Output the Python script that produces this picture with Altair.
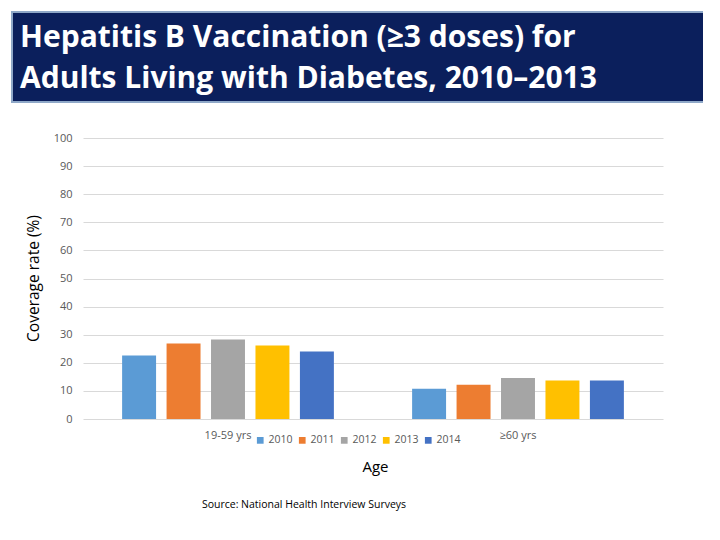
import altair as alt
import pandas as pd

groups = ["19-59 yrs", "≥60 yrs"]
years = ["2010", "2011", "2012", "2013", "2014"]
vals_young = [22.6, 26.9, 28.3, 26.2, 24.0]
vals_old = [10.8, 12.2, 14.6, 13.7, 13.7]
colors = ["#5B9BD5", "#ED7D31", "#A5A5A5", "#FFC000", "#4472C4"]
title_lines = ["Hepatitis B Vaccination (≥3 doses) for", "Adults Living with Diabetes, 2010–2013"]
source = "Source: National Health Interview Surveys"

rows = []
for g, vs in zip(groups, [vals_young, vals_old]):
    for y, v in zip(years, vs):
        rows.append({"group": g, "year": y, "value": v})
df = pd.DataFrame(rows)

W, H = 580, 281

bars = alt.Chart(df).mark_bar().encode(
    x=alt.X("group:N", sort=groups,
            scale=alt.Scale(paddingInner=0, paddingOuter=0),
            axis=alt.Axis(title="Age", labelAngle=0, domain=False, ticks=False, grid=False,
                          labelPadding=10, labelFontSize=11, labelColor="#595959",
                          labelFont="Open Sans",
                          titleFont="Open Sans", titleFontSize=15, titleFontWeight="normal",
                          titleColor="#000000", titleX=292, titleY=47,
                          titleBaseline="middle")),
    xOffset=alt.XOffset("year:N", sort=years,
                        scale=alt.Scale(paddingInner=0.236, paddingOuter=0.88)),
    y=alt.Y("value:Q", scale=alt.Scale(domain=[0, 100]),
            axis=alt.Axis(title="Coverage rate (%)", values=list(range(0, 101, 10)),
                          domain=False, ticks=False, labelPadding=11,
                          labelFontSize=11, labelColor="#595959", labelFont="Open Sans",
                          gridColor="#D9D9D9", gridWidth=1,
                          titleFont="Open Sans", titleFontSize=15.5, titleFontWeight="normal",
                          titleColor="#000000", titleX=-50, titleY=140, titleAngle=-90,
                          titleAlign="center", titleBaseline="middle")),
    color=alt.Color("year:N", sort=years,
                    scale=alt.Scale(domain=years, range=colors),
                    legend=alt.Legend(title=None, orient="none", legendX=172, legendY=297,
                                      direction="horizontal", columns=5,
                                      symbolType="square", symbolSize=45,
                                      labelFontSize=10.5, labelColor="#595959",
                                      labelFont="Open Sans", columnPadding=4,
                                      labelOffset=3, symbolStrokeWidth=0)),
)

title_box = alt.Chart(pd.DataFrame({"a": [0]})).mark_rect(
    fill="#0B1F5C", stroke="#8FA8C8", strokeWidth=2
).encode(x=alt.value(-71), x2=alt.value(625), y=alt.value(-126), y2=alt.value(-36))

tdf = pd.DataFrame({"t": title_lines, "yy": [-91, -50]})
title_text = alt.Chart(tdf).mark_text(
    align="left", baseline="alphabetic", color="white", font="Open Sans",
    fontWeight="bold", fontSize=30
).encode(text="t:N", x=alt.value(-63), y=alt.Y("yy:Q", scale=None))

src = alt.Chart(pd.DataFrame({"t": [source]})).mark_text(
    align="center", baseline="middle", color="#000000", font="Open Sans", fontSize=10.5
).encode(text="t:N", x=alt.value(221), y=alt.value(367))

chart = alt.layer(title_box, title_text, bars, src).properties(
    width=W, height=H,
    background="white",
    autosize=alt.AutoSizeParams(type="none"),
    padding={"left": 75, "top": 130, "right": 40, "bottom": 100},
).configure_view(strokeWidth=0, stroke=None)

chart.save("out.html", embed_options={"renderer": "svg", "actions": False})
